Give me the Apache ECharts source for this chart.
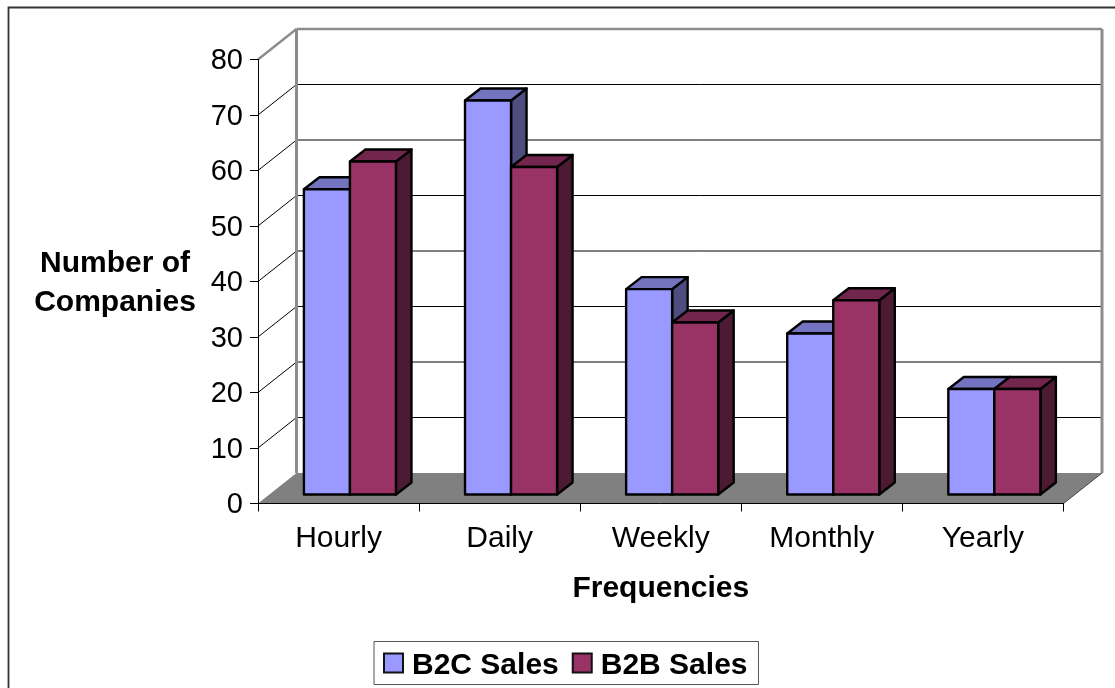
<!DOCTYPE html>
<html><head><meta charset="utf-8">
<style>html,body{margin:0;padding:0;background:#fff;overflow:hidden}#c{width:1115px;height:688px}</style>
<script src="https://cdn.jsdelivr.net/npm/echarts@6/dist/echarts.min.js"></script>
</head><body><div id="c"></div>
<script>
const categories = ['Hourly','Daily','Weekly','Monthly','Yearly'];
const b2cSales = [55,71,37,29,19];
const b2bSales = [60,59,31,35,19];
const gridValues = [10,20,30,40,50,60,70];

const FONT = '"Liberation Sans", Arial, sans-serif';
const WALL_DX = 38.5, WALL_DY = 30.5;         // chart depth (oblique projection)
const BAR_FRONT_DX = 11.4, BAR_FRONT_DY = 9;  // bar front plane behind axis plane
const BAR_DX = 15.5, BAR_DY = 12;             // bar depth
const BAR_FRAC = 46 / 161;

function poly(points, fill, z2, stroke, lw) {
  return {type:'polygon', z2:z2||0, shape:{points:points},
    style:{fill:fill, stroke:stroke||'#000', lineWidth:lw==null?2.4:lw, lineJoin:'round'}};
}
function barRenderer(side, front, top, dark) {
  return function(params, api) {
    const i = api.value(0), v = api.value(1);
    const base = api.coord([i, 0]), head = api.coord([i, v]);
    const w = api.size([1, 0])[0] * BAR_FRAC;
    const x0 = base[0] + BAR_FRONT_DX + (side < 0 ? -w : 0), x1 = x0 + w;
    const yb = base[1] - BAR_FRONT_DY, yt = head[1] - BAR_FRONT_DY;
    return {type:'group', children:[
      poly([[x1,yb],[x1+BAR_DX,yb-BAR_DY],[x1+BAR_DX,yt-BAR_DY],[x1,yt]], dark),
      poly([[x0,yt],[x0+BAR_DX,yt-BAR_DY],[x1+BAR_DX,yt-BAR_DY],[x1,yt]], top),
      poly([[x0,yb],[x1,yb],[x1,yt],[x0,yt]], front)
    ]};
  };
}
function line(x1,y1,x2,y2,color,lw){
  return {type:'line', shape:{x1,y1,x2,y2}, style:{stroke:color,lineWidth:lw,fill:null}};
}
const option = {
  animation:false,
  backgroundColor:'#fff',
  textStyle:{fontFamily:FONT},
  graphic:[{type:'rect', silent:true, z:-10, shape:{x:8.5,y:7.5,width:1130,height:720},
    style:{fill:'#fff',stroke:'#333',lineWidth:1.8}}],
  grid:{left:258, top:59.5, width:805.5, height:444},
  legend:{
    left:374, top:641.5, orient:'horizontal',
    data:['B2C Sales','B2B Sales'],
    icon:'rect', itemWidth:19, itemHeight:19, itemGap:13,
    padding:[4,11,4,9],
    backgroundColor:'#fff', borderColor:'#555', borderWidth:1,
    selectedMode:false,
    formatter:'{t|{name}}',
    textStyle:{rich:{t:{fontFamily:FONT,fontSize:30,fontWeight:'bold',color:'#000',lineHeight:37,padding:[5,0,0,4]}}},
    itemStyle:{borderColor:'#111',borderWidth:2}
  },
  xAxis:{type:'category', data:categories, z:6,
    boundaryGap:true,
    axisLine:{show:true,lineStyle:{color:'#000',width:1}},
    axisTick:{show:true,alignWithLabel:false,length:8,lineStyle:{color:'#000',width:1}},
    axisLabel:{fontFamily:FONT,fontSize:30,color:'#000',margin:20},
    splitLine:{show:false},
    name:'Frequencies', nameLocation:'middle', nameGap:70,
    nameTextStyle:{fontFamily:FONT,fontSize:30,fontWeight:'bold',color:'#000'}
  },
  yAxis:{type:'value', min:0, max:80, interval:10, z:6,
    axisLine:{show:true,lineStyle:{color:'#000',width:1}},
    axisTick:{show:true,length:8,lineStyle:{color:'#000',width:1}},
    axisLabel:{fontFamily:FONT,fontSize:29,color:'#000',margin:15,verticalAlign:'top',padding:[-13,0,0,0]},
    splitLine:{show:false},
    name:'Number of\nCompanies', nameLocation:'middle', nameRotate:0, nameGap:143,
    nameTextStyle:{fontFamily:FONT,fontSize:30,fontWeight:'bold',color:'#000',lineHeight:39,align:'center',verticalAlign:'top',padding:[-37,0,0,0]}
  },
  series:[
    { name:'Walls', type:'custom', coordinateSystem:'cartesian2d', silent:true, z:1, clip:false,
      data:gridValues.map(v=>[0,v]), encode:{x:0,y:1},
      renderItem:function(params,api){
        const cs = params.coordSys, y = api.coord([0,api.value(1)])[1];
        return {type:'group',children:[
          line(cs.x,y,cs.x+WALL_DX,y-WALL_DY,'#000',1),
          line(cs.x+WALL_DX,y-WALL_DY,cs.x+cs.width+WALL_DX,y-WALL_DY,'#000',1)
        ]};
      }
    },
    { name:'Frame', type:'custom', coordinateSystem:'cartesian2d', silent:true, z:2, clip:false,
      data:[[0,0]], encode:{x:0,y:1},
      renderItem:function(params,api){
        const cs = params.coordSys, L=cs.x, R=cs.x+cs.width, T=cs.y, B=cs.y+cs.height;
        const dx=WALL_DX, dy=WALL_DY;
        return {type:'group',children:[
          line(L,T,L+dx,T-dy,'#8c8c8c',2.4),
          line(L+dx,T-dy,R+dx,T-dy,'#8c8c8c',2.4),
          line(L+dx,T-dy,L+dx,B-dy,'#8c8c8c',3),
          line(R+dx,T-dy,R+dx,B-dy,'#8c8c8c',3),
          poly([[L,B],[L+dx,B-dy],[R+dx,B-dy],[R,B]],'#808080',0,'#808080',0),
          line(R,B,R+dx,B-dy,'#444',1)
        ]};
      }
    },
    { name:'B2C Sales', type:'custom', coordinateSystem:'cartesian2d', z:3, clip:false,
      itemStyle:{color:'#9999FF'},
      data:b2cSales.map((v,i)=>[i,v]), encode:{x:0,y:1},
      renderItem:barRenderer(-1,'#9999FF','#7373BF','#4D4D80')
    },
    { name:'B2B Sales', type:'custom', coordinateSystem:'cartesian2d', z:4, clip:false,
      itemStyle:{color:'#993366'},
      data:b2bSales.map((v,i)=>[i,v]), encode:{x:0,y:1},
      renderItem:barRenderer(1,'#993366','#73264D','#4D1A33')
    }
  ]
};
const chart = echarts.init(document.getElementById('c'),null,{renderer:'canvas'});
chart.setOption(option);
</script></body></html>
